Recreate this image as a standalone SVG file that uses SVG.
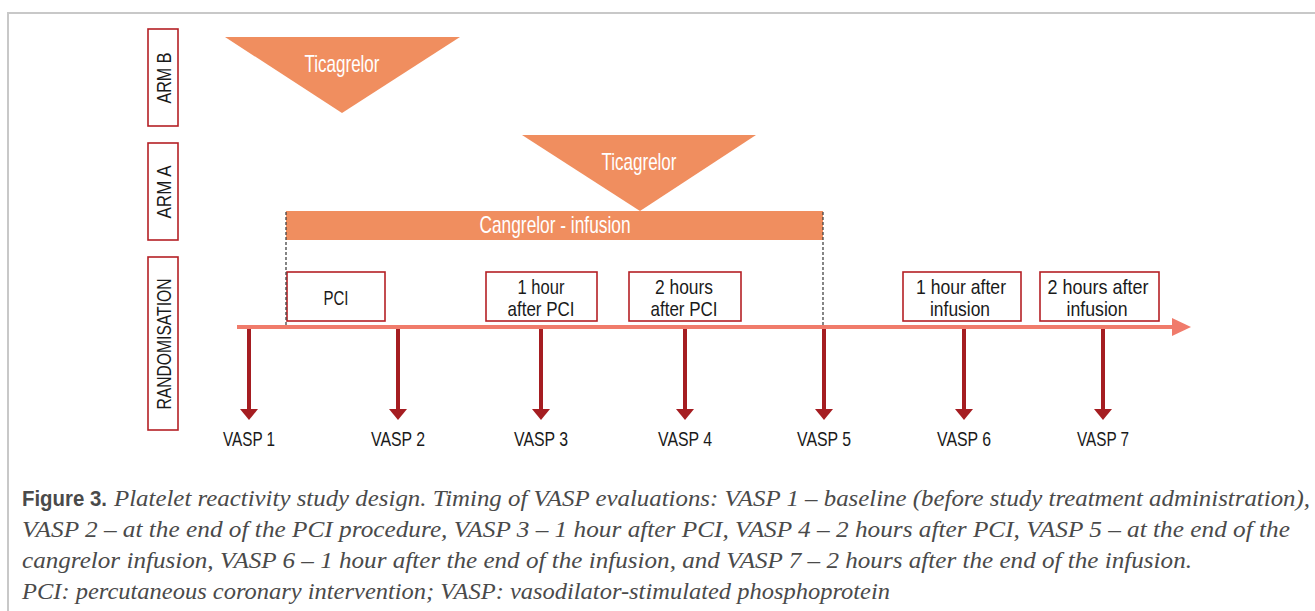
<svg xmlns="http://www.w3.org/2000/svg" width="1315" height="611" viewBox="0 0 1315 611">
  <style>
    .frame { fill: none; stroke: #c8c8c8; stroke-width: 2; }
    .side { fill: #fff; stroke: #b52025; stroke-width: 1.6; }
    .box { fill: #fff; stroke: #b52025; stroke-width: 1.6; }
    .drug { fill: #f08e5f; }
    .lbl { font-family: "Liberation Sans", Arial, sans-serif; font-size: 21px; fill: #1a1a1a; text-anchor: middle; }
    .wlbl { font-family: "Liberation Sans", Arial, sans-serif; font-size: 24px; fill: #fff; text-anchor: middle; }
    .dash { stroke: #444; stroke-width: 1.3; stroke-dasharray: 3 2; fill: none; }
    .timeline { stroke: #f07b6b; stroke-width: 4; fill: none; }
    .sample { stroke: #a51d21; stroke-width: 4; fill: none; marker-end: url(#down); }
    .cap { font-family: "Liberation Serif", "Times New Roman", serif; font-style: italic; font-size: 23px; fill: #4a4a4a; }
    .capb { font-family: "Liberation Sans", Arial, sans-serif; font-weight: bold; font-size: 22px; fill: #4a4a4a; }
  </style>
  <defs>
    <marker id="down" viewBox="0 0 11 18" refX="0" refY="9" markerWidth="11" markerHeight="18" markerUnits="userSpaceOnUse" orient="auto">
      <path d="M0,0 L11,9 L0,18 z" fill="#a51d21"/>
    </marker>
  </defs>

  <!-- panel frame (top and left edges) -->
  <path class="frame" d="M8,611 V13 H1315"/>

  <!-- row labels -->
  <g id="arm-b-label">
    <rect class="side" x="148" y="29" width="30" height="97"/>
    <text class="lbl" transform="translate(171,78) rotate(-90)" textLength="51" lengthAdjust="spacingAndGlyphs">ARM B</text>
  </g>
  <g id="arm-a-label">
    <rect class="side" x="148" y="143" width="30" height="97"/>
    <text class="lbl" transform="translate(171,192) rotate(-90)" textLength="53" lengthAdjust="spacingAndGlyphs">ARM A</text>
  </g>
  <g id="randomisation-label">
    <rect class="side" x="148" y="257" width="30" height="173"/>
    <text class="lbl" transform="translate(171,344) rotate(-90)" textLength="131" lengthAdjust="spacingAndGlyphs">RANDOMISATION</text>
  </g>

  <!-- drug administration -->
  <g id="ticagrelor-b">
    <polygon class="drug" points="225,37 460,37 342,113"/>
    <text class="wlbl" x="342" y="72" textLength="75" lengthAdjust="spacingAndGlyphs">Ticagrelor</text>
  </g>
  <g id="ticagrelor-a">
    <polygon class="drug" points="522,135 756,135 640,211"/>
    <text class="wlbl" x="639" y="170" textLength="75" lengthAdjust="spacingAndGlyphs">Ticagrelor</text>
  </g>
  <g id="cangrelor">
    <rect class="drug" x="286" y="211" width="537" height="29"/>
    <text class="wlbl" x="555" y="233" textLength="151" lengthAdjust="spacingAndGlyphs">Cangrelor - infusion</text>
  </g>

  <!-- time-point boxes -->
  <g id="pci">
    <rect class="box" x="287" y="272" width="98" height="49"/>
    <text class="lbl" x="336" y="305" textLength="25" lengthAdjust="spacingAndGlyphs">PCI</text>
  </g>
  <g id="h1-after-pci">
    <rect class="box" x="486" y="272" width="111" height="49"/>
    <text class="lbl" x="541" y="294" textLength="47" lengthAdjust="spacingAndGlyphs">1 hour</text>
    <text class="lbl" x="541" y="316" textLength="67" lengthAdjust="spacingAndGlyphs">after PCI</text>
  </g>
  <g id="h2-after-pci">
    <rect class="box" x="629" y="272" width="112" height="49"/>
    <text class="lbl" x="684" y="294" textLength="58" lengthAdjust="spacingAndGlyphs">2 hours</text>
    <text class="lbl" x="684" y="316" textLength="67" lengthAdjust="spacingAndGlyphs">after PCI</text>
  </g>
  <g id="h1-after-infusion">
    <rect class="box" x="903" y="272" width="118" height="49"/>
    <text class="lbl" x="961" y="294" textLength="90" lengthAdjust="spacingAndGlyphs">1 hour after</text>
    <text class="lbl" x="960" y="316" textLength="60" lengthAdjust="spacingAndGlyphs">infusion</text>
  </g>
  <g id="h2-after-infusion">
    <rect class="box" x="1040" y="272" width="119" height="49"/>
    <text class="lbl" x="1098" y="294" textLength="101" lengthAdjust="spacingAndGlyphs">2 hours after</text>
    <text class="lbl" x="1097" y="316" textLength="61" lengthAdjust="spacingAndGlyphs">infusion</text>
  </g>

  <!-- connectors: infusion bounds, timeline and sampling arrows -->
  <g id="connectors">
    <line class="dash" x1="286" y1="212" x2="286" y2="325"/>
    <line class="dash" x1="823" y1="212" x2="823" y2="325"/>
    <line class="timeline" x1="237" y1="327" x2="1175" y2="327"/>
    <polygon points="1172,318 1191,327 1172,336" fill="#f07b6b"/>
    <line class="sample" x1="249" y1="329" x2="249" y2="409"/>
    <line class="sample" x1="398" y1="329" x2="398" y2="409"/>
    <line class="sample" x1="541" y1="329" x2="541" y2="409"/>
    <line class="sample" x1="685" y1="329" x2="685" y2="409"/>
    <line class="sample" x1="824" y1="329" x2="824" y2="409"/>
    <line class="sample" x1="964" y1="329" x2="964" y2="409"/>
    <line class="sample" x1="1103" y1="329" x2="1103" y2="409"/>
  </g>

  <!-- sampling labels -->
  <g id="vasp-labels">
    <text class="lbl" x="249" y="446" textLength="52" lengthAdjust="spacingAndGlyphs">VASP 1</text>
    <text class="lbl" x="398" y="446" textLength="54" lengthAdjust="spacingAndGlyphs">VASP 2</text>
    <text class="lbl" x="541" y="446" textLength="54" lengthAdjust="spacingAndGlyphs">VASP 3</text>
    <text class="lbl" x="685" y="446" textLength="54" lengthAdjust="spacingAndGlyphs">VASP 4</text>
    <text class="lbl" x="824" y="446" textLength="54" lengthAdjust="spacingAndGlyphs">VASP 5</text>
    <text class="lbl" x="964" y="446" textLength="54" lengthAdjust="spacingAndGlyphs">VASP 6</text>
    <text class="lbl" x="1103" y="446" textLength="52" lengthAdjust="spacingAndGlyphs">VASP 7</text>
  </g>

  <!-- caption -->
  <g id="caption">
    <text class="capb" x="22" y="506" textLength="85" lengthAdjust="spacingAndGlyphs">Figure 3.</text>
    <text class="cap" x="114" y="506" textLength="1196" lengthAdjust="spacingAndGlyphs">Platelet reactivity study design. Timing of VASP evaluations: VASP 1 – baseline (before study treatment administration),</text>
    <text class="cap" x="22" y="537" textLength="1268" lengthAdjust="spacingAndGlyphs">VASP 2 – at the end of the PCI procedure, VASP 3 – 1 hour after PCI, VASP 4 – 2 hours after PCI, VASP 5 – at the end of the</text>
    <text class="cap" x="22" y="568" textLength="1170" lengthAdjust="spacingAndGlyphs">cangrelor infusion, VASP 6 – 1 hour after the end of the infusion, and VASP 7 – 2 hours after the end of the infusion.</text>
    <text class="cap" x="22" y="599" textLength="868" lengthAdjust="spacingAndGlyphs">PCI: percutaneous coronary intervention; VASP: vasodilator-stimulated phosphoprotein</text>
  </g>
</svg>
